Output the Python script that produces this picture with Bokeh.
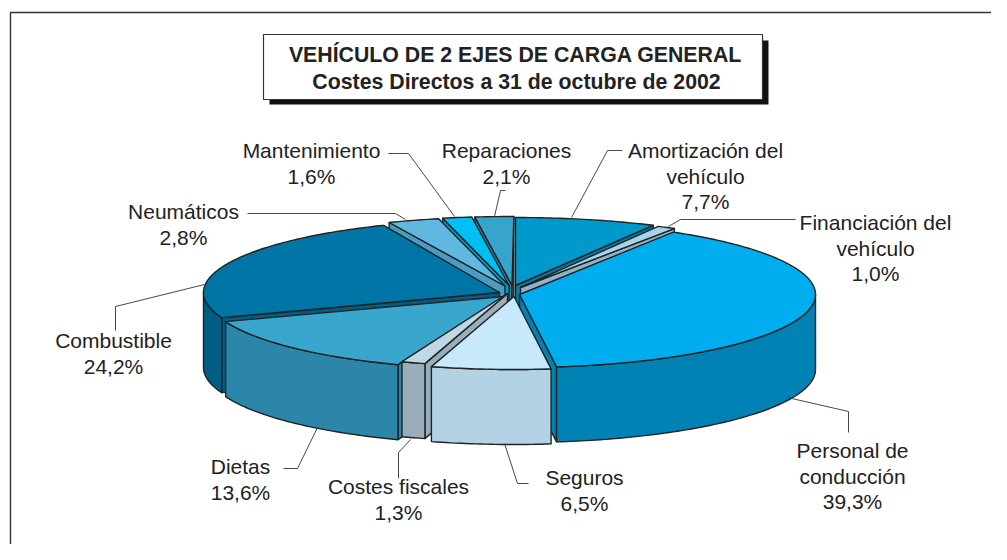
import math
from bokeh.plotting import figure
from bokeh.models import Range1d
from bokeh.core.properties import value
from bokeh.embed import file_html
from bokeh.resources import INLINE

names = ["Amortización del\nvehículo", "Financiación del\nvehículo", "Personal de\nconducción", "Seguros",
         "Costes fiscales", "Dietas", "Combustible", "Neumáticos", "Mantenimiento", "Reparaciones"]
shares = [7.7, 1.0, 39.3, 6.5, 1.3, 13.6, 24.2, 2.8, 1.6, 2.1]
top_colors = ["#0099cc", "#a6d3e8", "#00aeef", "#c8e9fb", "#bfd8e6", "#39a7cd", "#0075a6", "#60b8e0", "#00bff3", "#36a4cc"]
wall_colors = ["#007fa9", "#8fb3c9", "#0082b4", "#b3d3e5", "#98aeba", "#2b86a9", "#005e85", "#4a9cc0", "#00a0d0", "#2b86a9"]
title_lines = ["VEHÍCULO DE 2 EJES DE CARGA GENERAL", "Costes Directos a 31 de octubre de 2002"]

# Layout only, in picture pixels: where each exploded slice's tip sits, and its vertical radius
tips = [(515, 285), (520, 287), (519, 294), (513.5, 296), (507, 293),
        (503, 296), (499, 292), (504.5, 285.5), (508.5, 285), (511.5, 285)]
radii_y = [68, 69, 73, 73, 73, 73, 73, 69, 69, 69]
label_pos = [(705, 150), (875, 222), (852, 450), (584, 477), (398, 486),
             (240, 466), (113, 340), (183, 211), (311, 150), (506, 150)]
leaders = [[(622, 150), (607, 150), (571, 217)],
           [(795, 219), (680, 219), (668, 226)],
           [(848, 432), (848, 411), (787, 397)],
           [(528, 483), (517, 483), (504, 443)],
           [(398, 478), (398, 452), (410, 439)],
           [(283, 468), (297, 468), (317, 427)],
           [(115, 330), (115, 306), (204, 284)],
           [(247, 213), (395, 213), (405, 219)],
           [(388, 153), (408, 153), (454, 216)],
           [(505, 190), (500, 190), (494, 216)]]

W, H = 991, 544
p = figure(width=W, height=H, x_range=Range1d(0, W), y_range=Range1d(H, 0),
           output_backend="svg", toolbar_location=None, min_border=0, outline_line_color=None,
           background_fill_color="white", border_fill_color="white")
p.axis.visible = False
p.grid.visible = False
FONT = value("Liberation Sans")

# frame: top and left edges
p.line([10, 10, W], [H, 12, 12], line_color="#333333", line_width=1.4)

# title box
p.quad(left=[269], right=[768], top=[40], bottom=[104], fill_color="#111111", line_color=None)
p.quad(left=[263], right=[762], top=[34], bottom=[99], fill_color="white", line_color="#333333", line_width=1.2)
p.text(x=[515, 516], y=[54, 81], text=title_lines, text_font=FONT, text_font_style="bold",
       text_font_size="21.3px", text_align="center", text_baseline="middle", text_color="#222222")

# exploded 3-D pie
RX, DEPTH = 296.0, 75.0
OUT = "#222222"
LW = 1.4

slices = []
cum = 0.0
for i, v in enumerate(shares):
    a0 = cum / 100 * 2 * math.pi
    cum += v
    a1 = cum / 100 * 2 * math.pi
    slices.append((i, a0, a1, (a0 + a1) / 2))

for i, a0, a1, mid in sorted(slices, key=lambda s: math.cos(s[3]), reverse=True):
    ax, ay = tips[i]
    ry_i = radii_y[i]

    def pt(th):
        return ax + RX * math.sin(th), ay - ry_i * math.cos(th)

    # cut faces: the start face shows on the left half, the end face on the right half
    for th, shown in ((a0, math.sin(a0) < 0), (a1, math.sin(a1) > 0)):
        if shown:
            rx, ry = pt(th)
            p.patch([ax, rx, rx, ax], [ay, ry, ry + DEPTH, ay + DEPTH], fill_color=wall_colors[i],
                    line_color=OUT, line_width=LW, line_join="round")
    # outer wall (front half of the rim only)
    lo, hi = max(a0, math.pi / 2), min(a1, 3 * math.pi / 2)
    if hi > lo:
        n = max(3, int((hi - lo) * 60))
        ths = [lo + (hi - lo) * k / n for k in range(n + 1)]
        up = [pt(t) for t in ths]
        xs = [q[0] for q in up] + [q[0] for q in reversed(up)]
        ys = [q[1] for q in up] + [q[1] + DEPTH for q in reversed(up)]
        p.patch(xs, ys, fill_color=wall_colors[i], line_color=OUT, line_width=LW, line_join="round")
    # top face
    n = max(3, int((a1 - a0) * 60))
    ths = [a0 + (a1 - a0) * k / n for k in range(n + 1)]
    rim = [pt(t) for t in ths]
    p.patch([ax] + [q[0] for q in rim], [ay] + [q[1] for q in rim], fill_color=top_colors[i],
            line_color=OUT, line_width=LW, line_join="round")

# leaders
for seg in leaders:
    p.line([q[0] for q in seg], [q[1] for q in seg], line_color="#333333", line_width=0.9)

# labels
lx, ly, lt = [], [], []
for name, v, (x, y) in zip(names, shares, label_pos):
    rows = name.split("\n") + [f"{v:.1f}".replace(".", ",") + "%"]
    for k, row in enumerate(rows):
        lx.append(x)
        ly.append(y + k * 25.5)
        lt.append(row)
p.text(x=lx, y=ly, text=lt, text_font=FONT, text_font_size="21px", text_align="center",
       text_baseline="middle", text_color="#222222")

open("out.html", "w").write(file_html(p, INLINE))
